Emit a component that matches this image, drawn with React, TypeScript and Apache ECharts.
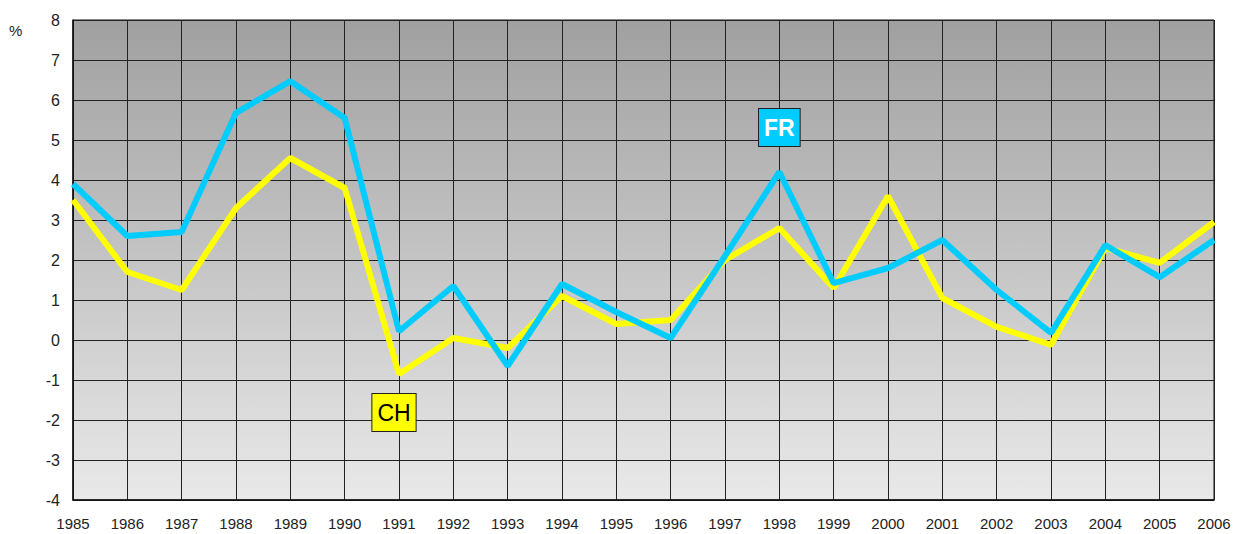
import React, { useEffect, useRef } from "react";
import * as echarts from "echarts";

const years = ["1985","1986","1987","1988","1989","1990","1991","1992","1993","1994","1995","1996","1997","1998","1999","2000","2001","2002","2003","2004","2005","2006"];
const ch = [3.5, 1.7, 1.25, 3.3, 4.55, 3.8, -0.85, 0.05, -0.2, 1.1, 0.4, 0.5, 2.0, 2.8, 1.3, 3.6, 1.05, 0.33, -0.12, 2.3, 1.93, 2.95];
const fr = [3.9, 2.6, 2.7, 5.68, 6.47, 5.55, 0.22, 1.35, -0.65, 1.4, 0.7, 0.05, 2.1, 4.2, 1.42, 1.8, 2.5, 1.25, 0.18, 2.37, 1.57, 2.5];
const chLabelYear = "1991";
const frLabelYear = "1998";

const FONT = "'Liberation Sans', Arial, sans-serif";

export default function App() {
  const ref = useRef<HTMLDivElement>(null);
  useEffect(() => {
    const chart = echarts.init(ref.current!, null, { renderer: "svg" });
    const chIdx = years.indexOf(chLabelYear);
    const frIdx = years.indexOf(frLabelYear);
    chart.setOption({
      animation: false,
      backgroundColor: "#fff",
      grid: {
        left: 73,
        right: 19,
        top: 20,
        bottom: 34,
        outerBoundsMode: "none",
        containLabel: false,
        show: true,
        borderColor: "#111",
        borderWidth: 1,
        backgroundColor: new echarts.graphic.LinearGradient(0, 0, 0, 1, [
          { offset: 0, color: "#a0a0a0" },
          { offset: 1, color: "#e9e9e9" },
        ]),
      },
      graphic: [
        {
          type: "text",
          left: 9,
          top: 23,
          style: { text: "%", fontSize: 15, fontFamily: FONT, fill: "#222" },
        },
      ],
      xAxis: {
        type: "category",
        data: years,
        boundaryGap: false,
        axisLine: { onZero: false, lineStyle: { color: "#111", width: 1.5 } },
        axisTick: { show: false },
        axisLabel: {
          color: "#222",
          fontSize: 15,
          fontFamily: FONT,
          margin: 16,
          interval: 0,
        },
        splitLine: { show: true, lineStyle: { color: "#222", width: 1 } },
      },
      yAxis: {
        type: "value",
        min: -4,
        max: 8,
        interval: 1,
        axisLine: { show: true, lineStyle: { color: "#111", width: 1.5 } },
        axisTick: { show: false },
        axisLabel: {
          color: "#222",
          fontSize: 16,
          fontFamily: FONT,
          margin: 13,
        },
        splitLine: { show: true, lineStyle: { color: "#222", width: 1 } },
      },
      series: [
        {
          name: "CH",
          type: "line",
          data: ch,
          symbol: "none",
          lineStyle: { color: "#ffff00", width: 6 },
          itemStyle: { color: "#ffff00" },
          z: 2,
          markPoint: {
            symbol: "circle",
            symbolSize: 0,
            data: [
              {
                coord: [chLabelYear, ch[chIdx]],
                label: {
                  show: true,
                  position: "bottom",
                  distance: 20,
                  offset: [-5, 0],
                  formatter: "CH",
                  backgroundColor: "#ffff00",
                  borderColor: "#222",
                  borderWidth: 1,
                  padding: [9, 5, 8, 5],
                  lineHeight: 20,
                  color: "#000",
                  fontSize: 23,
                  fontFamily: FONT,
                },
              },
            ],
          },
        },
        {
          name: "FR",
          type: "line",
          data: fr,
          symbol: "none",
          lineStyle: { color: "#00ccff", width: 6 },
          itemStyle: { color: "#00ccff" },
          z: 3,
          markPoint: {
            symbol: "circle",
            symbolSize: 0,
            data: [
              {
                coord: [frLabelYear, fr[frIdx]],
                label: {
                  show: true,
                  position: "top",
                  distance: 26,
                  formatter: "FR",
                  backgroundColor: "#00ccff",
                  borderColor: "#222",
                  borderWidth: 1,
                  padding: [9, 5, 8, 5],
                  lineHeight: 20,
                  color: "#fff",
                  fontSize: 23,
                  fontWeight: "bold",
                  fontFamily: FONT,
                },
              },
            ],
          },
        },
      ],
    });
    return () => chart.dispose();
  }, []);
  return <div ref={ref} style={{ width: 1233, height: 534, position: "absolute", left: 0, top: 0 }} />;
}
